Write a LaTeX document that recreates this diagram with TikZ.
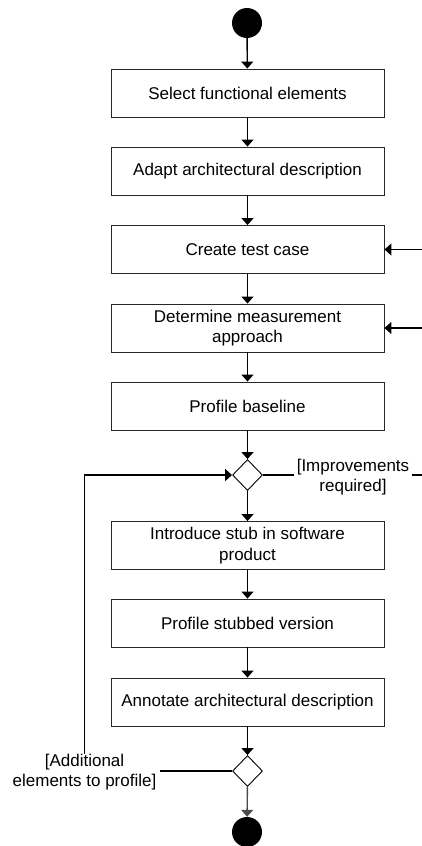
\documentclass[tikz,border=0pt]{standalone}
\usepackage{fontspec}
\setmainfont{Liberation Sans}
\usetikzlibrary{arrows.meta,shapes.geometric}
\begin{document}
\begin{tikzpicture}[x=1pt,y=-1pt,
  act/.style={draw=black!85,line width=0.9pt,minimum width=273pt,minimum height=48pt,inner sep=0pt,align=center,font=\fontsize{17}{20.5}\selectfont},
  dec/.style={draw,line width=0.9pt,diamond,minimum width=30pt,minimum height=31pt,inner sep=0pt},
  dot/.style={circle,fill=black,minimum size=30pt,inner sep=0pt},
  flow/.style={line width=1.4pt,-{Triangle[length=7pt,width=12pt]}},
  line/.style={line width=1.4pt},
  lbl/.style={align=center,font=\fontsize{17}{20}\selectfont,inner ysep=0pt,inner xsep=3pt}]
\useasboundingbox (0,0) rectangle (422,846);
\node[dot] (start) at (247,23) {};
\node[act] (a1) at (247.5,93) {Select functional elements};
\node[act] (a2) at (247.5,171) {Adapt architectural description};
\node[act] (a3) at (247.5,249.5) {Create test case};
\node[act] (a4) at (247.5,328) {Determine measurement\\approach};
\node[act] (a5) at (247.5,406) {Profile baseline};
\node[dec] (d1) at (247.5,475) {};
\node[act] (a6) at (247.5,545.5) {Introduce stub in software\\product};
\node[act] (a7) at (247.5,623) {Profile stubbed version};
\node[act] (a8) at (247.5,702) {Annotate architectural description};
\node[dec] (d2) at (247.5,771) {};
\node[dot] (end) at (247,832) {};
\node[lbl] (imp) at (353,477) {[Improvements\\required]};
\node[lbl] (add) at (84.5,772) {[Additional\\elements to profile]};
\coordinate (r3) at (422,249.5);
\coordinate (r4) at (422,328);
\coordinate (rimp) at (422,475);
\draw[flow] (start) -- (a1);
\draw[flow] (a1) -- (a2);
\draw[flow] (a2) -- (a3);
\draw[flow] (a3) -- (a4);
\draw[flow] (a4) -- (a5);
\draw[flow] (a5) -- (d1);
\draw[flow] (d1) -- (a6);
\draw[flow] (a6) -- (a7);
\draw[flow] (a7) -- (a8);
\draw[flow] (a8) -- (d2);
\draw[flow,draw=black!70,fill=black!70] (d2) -- (end);
\draw[flow] (r3) -- (a3.east);
\draw[flow] (r4) -- (a4.east);
\draw[line] (d1.east) -- (d1.east -| imp.west);
\draw[line] (imp.east |- d1.east) -- (rimp);
\draw[line] (d2.west) -- (d2.west -| add.east);
\draw[flow] (add.north) |- (d1.west);
\end{tikzpicture}
\end{document}
